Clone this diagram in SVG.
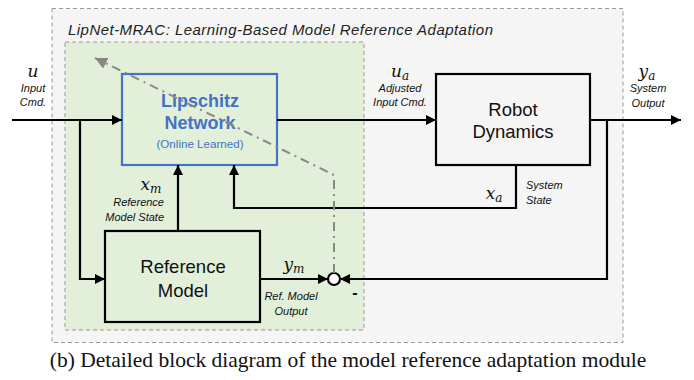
<svg xmlns="http://www.w3.org/2000/svg" width="694" height="380" viewBox="0 0 694 380">
<defs>
<marker id="ah" viewBox="0 0 10 10" refX="10" refY="5" markerWidth="10" markerHeight="10" markerUnits="userSpaceOnUse" orient="auto">
<path d="M0,0 L10,5 L0,10 z" fill="#000"/>
</marker>
<marker id="ahg" viewBox="0 0 10 10" refX="10" refY="5" markerWidth="12" markerHeight="12" markerUnits="userSpaceOnUse" orient="auto">
<path d="M0,0 L10,5 L0,10 z" fill="#888"/>
</marker>
</defs>
<style>
.sans{font-family:"Liberation Sans",Arial,sans-serif}
.lbl{font-family:"Liberation Sans",Arial,sans-serif;font-style:italic;font-size:11px;fill:#111}
.math{font-family:"DejaVu Serif","Liberation Serif",serif;font-style:italic;font-size:17px;fill:#111}
.box{stroke:#000;stroke-width:2.2}
.wire{stroke:#000;stroke-width:2.2;fill:none}
</style>
<rect width="694" height="380" fill="#fff"/>
<g id="outer">
<rect x="52" y="8.5" width="571" height="334" fill="#f5f5f5" stroke="#999" stroke-width="1" stroke-dasharray="4,3"/>
<text x="68" y="35" class="sans" font-style="italic" font-size="15" fill="#222" textLength="425" lengthAdjust="spacing">LipNet-MRAC:  Learning-Based  Model  Reference  Adaptation</text>
</g>
<g id="inner">
<rect x="65" y="42" width="299" height="288" fill="#e2efd9" stroke="#999" stroke-width="1" stroke-dasharray="4,3"/>
</g>
<g id="lipschitz">
<rect x="122" y="74" width="155" height="91" fill="#e2efd9" stroke="#4472C4" stroke-width="2.2"/>
<text x="200" y="107" class="sans" font-size="18" font-weight="bold" fill="#4472C4" text-anchor="middle">Lipschitz</text>
<text x="200" y="129" class="sans" font-size="18" font-weight="bold" fill="#4472C4" text-anchor="middle">Network</text>
<text x="200" y="148" class="sans" font-size="11.6" fill="#4472C4" text-anchor="middle">(Online Learned)</text>
</g>
<g id="robot">
<rect x="436" y="74" width="154" height="91" fill="#f5f5f5" class="box"/>
<text x="513" y="116" class="sans" font-size="18.5" fill="#111" text-anchor="middle">Robot</text>
<text x="513" y="138" class="sans" font-size="18.5" fill="#111" text-anchor="middle">Dynamics</text>
</g>
<g id="refmodel">
<rect x="105" y="231" width="155" height="91" fill="#e2efd9" class="box"/>
<text x="183" y="273" class="sans" font-size="18.5" fill="#111" text-anchor="middle">Reference</text>
<text x="183" y="297" class="sans" font-size="18.5" fill="#111" text-anchor="middle">Model</text>
</g>
<g id="sum">
<circle cx="334" cy="279" r="6" fill="#fff" stroke="#000" stroke-width="2.2"/>
<text x="355" y="298" class="sans" font-size="16" font-weight="bold" fill="#111" text-anchor="middle">-</text>
</g>
<g id="connectors">
<path class="wire" d="M12,120 H122" marker-end="url(#ah)"/>
<path class="wire" d="M80,120 V279 H105" marker-end="url(#ah)"/>
<path class="wire" d="M178,231 V165" marker-end="url(#ah)"/>
<path class="wire" d="M516,165 V208 H234 V165" marker-end="url(#ah)"/>
<path class="wire" d="M277,120 H436" marker-end="url(#ah)"/>
<path class="wire" d="M590,120 H681" marker-end="url(#ah)"/>
<path class="wire" d="M607,120 V279 H340" marker-end="url(#ah)"/>
<path class="wire" d="M260,279 H328" marker-end="url(#ah)"/>
<path d="M334,273 V175 L95,58" fill="none" stroke="#888" stroke-width="2" stroke-dasharray="9,5,2,5" marker-end="url(#ahg)"/>
</g>
<g id="labels">
<text x="33" y="77" class="math" text-anchor="middle">u</text>
<text x="33" y="92" class="lbl" text-anchor="middle">Input</text>
<text x="33" y="106" class="lbl" text-anchor="middle">Cmd.</text>
<text x="400" y="77" class="math" text-anchor="middle">u<tspan font-size="12" dy="3">a</tspan></text>
<text x="400" y="92" class="lbl" text-anchor="middle">Adjusted</text>
<text x="400" y="106" class="lbl" text-anchor="middle">Input Cmd.</text>
<text x="647" y="77" class="math" text-anchor="middle">y<tspan font-size="12" dy="3">a</tspan></text>
<text x="648" y="92" class="lbl" text-anchor="middle">System</text>
<text x="648" y="107" class="lbl" text-anchor="middle">Output</text>
<text x="494" y="199" class="math" text-anchor="middle">x<tspan font-size="12" dy="3">a</tspan></text>
<text x="526" y="189" class="lbl">System</text>
<text x="526" y="204" class="lbl">State</text>
<text x="151" y="190" class="math" text-anchor="middle">x<tspan font-size="12" dy="3">m</tspan></text>
<text x="164" y="206" class="lbl" text-anchor="end">Reference</text>
<text x="164" y="221" class="lbl" text-anchor="end">Model State</text>
<text x="294" y="270" class="math" text-anchor="middle">y<tspan font-size="12" dy="3">m</tspan></text>
<text x="291" y="300" class="lbl" text-anchor="middle">Ref. Model</text>
<text x="291" y="315" class="lbl" text-anchor="middle">Output</text>
</g>
<text x="348" y="367" font-family="Liberation Serif,Times New Roman,serif" font-size="21.5" fill="#111" text-anchor="middle">(b) Detailed block diagram of the model reference adaptation module</text>
</svg>
